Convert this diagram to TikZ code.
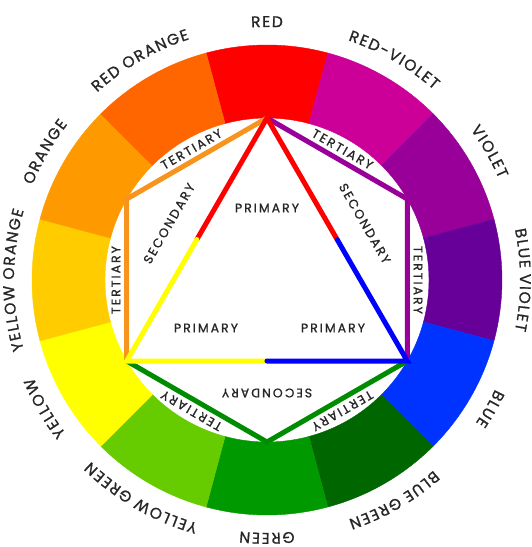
\documentclass[tikz,border=0pt]{standalone}
\usepackage{fontspec}
\setmainfont{Poppins}
\newfontfamily\ringfont[FakeBold=1]{Poppins}
\newfontfamily\wheelfont[LetterSpace=16,FakeBold=1]{Poppins}
\usepackage{tikz}
\usetikzlibrary{calc,decorations.text}

\definecolor{ringR}{HTML}{FF0000}
\definecolor{ringRV}{HTML}{CC0099}
\definecolor{ringV}{HTML}{990099}
\definecolor{ringBV}{HTML}{660099}
\definecolor{ringB}{HTML}{0033FF}
\definecolor{ringBG}{HTML}{006600}
\definecolor{ringG}{HTML}{009900}
\definecolor{ringYG}{HTML}{66CC00}
\definecolor{ringY}{HTML}{FFFF00}
\definecolor{ringYO}{HTML}{FFCC00}
\definecolor{ringO}{HTML}{FF9900}
\definecolor{ringRO}{HTML}{FF6600}
\definecolor{lineO}{HTML}{F7941D}
\definecolor{lineV}{HTML}{990099}
\definecolor{lineG}{HTML}{008C00}
\definecolor{lineB}{HTML}{0000FF}
\definecolor{ink}{HTML}{262626}

\newcommand\outfont{\ringfont\fontsize{15.5}{15.5}\selectfont}
\protected\def\ls{\kern1.5pt}

\begin{document}
\begin{tikzpicture}[x=1pt,y=1pt,
    wheelline/.style={line width=5pt,line cap=round},
    inlabel/.style={text=ink,inner sep=0pt,font=\wheelfont\fontsize{12.5}{12.5}\selectfont}]
  \useasboundingbox (-267,-267) rectangle (264,280);
  % colour ring
  \foreach \ang/\col in {90/ringR,60/ringRV,30/ringV,0/ringBV,-30/ringB,-60/ringBG,
      -90/ringG,-120/ringYG,-150/ringY,180/ringYO,150/ringO,120/ringRO} {
    \fill[\col,draw=\col,line width=0.4pt] (\ang-15:162) arc[start angle=\ang-15,end angle=\ang+15,radius=162]
      -- (\ang+15:235) arc[start angle=\ang+15,end angle=\ang-15,radius=235] -- cycle;
  }
  % outer names
  \foreach \ang/\lab in {90/{R{\ls}E{\ls}D},
      60/{R{\ls}E{\ls}D{\ls}-{\ls}V{\ls}I{\ls}O{\ls}L{\ls}E{\ls}T},
      30/{V{\ls}I{\ls}O{\ls}L{\ls}E{\ls}T},
      0/{B{\ls}L{\ls}U{\ls}E{\ls} V{\ls}I{\ls}O{\ls}L{\ls}E{\ls}T},
      -30/{B{\ls}L{\ls}U{\ls}E},
      -60/{B{\ls}L{\ls}U{\ls}E{\ls} G{\ls}R{\ls}E{\ls}E{\ls}N},
      -90/{G{\ls}R{\ls}E{\ls}E{\ls}N},
      -120/{Y{\ls}E{\ls}L{\ls}L{\ls}O{\ls}W{\ls} G{\ls}R{\ls}E{\ls}E{\ls}N},
      -150/{Y{\ls}E{\ls}L{\ls}L{\ls}O{\ls}W},
      180/{Y{\ls}E{\ls}L{\ls}L{\ls}O{\ls}W{\ls} O{\ls}R{\ls}A{\ls}N{\ls}G{\ls}E},
      150/{O{\ls}R{\ls}A{\ls}N{\ls}G{\ls}E},
      120/{R{\ls}E{\ls}D{\ls} O{\ls}R{\ls}A{\ls}N{\ls}G{\ls}E}} {
    \path[decorate,decoration={text along path,text align=center,
        text color=ink,text/.expanded={|\noexpand\outfont|\lab}}]
      (\ang+50:253) arc[start angle=\ang+50,end angle=\ang-50,radius=253];
  }
  % corners on the inner circle
  \foreach \ang in {90,30,330,270,210,150} {
    \coordinate (p\ang) at (\ang:162);
  }
  \coordinate (mL) at ($(p90)!0.5!(p210)$);
  \coordinate (mR) at ($(p90)!0.5!(p330)$);
  \coordinate (mB) at ($(p210)!0.5!(p330)$);
  % tertiary hexagon
  \draw[wheelline,lineO] (p90) -- (p150) -- (p210);
  \draw[wheelline,lineV] (p90) -- (p30) -- (p330);
  \draw[wheelline,lineG] (p210) -- (p270) -- (p330);
  % primary triangle
  \draw[wheelline,ringR] (mL) -- (p90) -- (mR);
  \draw[wheelline,ringY] (mL) -- (p210) -- (mB);
  \draw[wheelline,lineB] (mR) -- (p330) -- (mB);
  % inner labels
  \node[inlabel] (prim1) at (0,72) {PRIMARY};
  \node[inlabel] (prim2) at (-61,-48) {PRIMARY};
  \node[inlabel] (prim3) at (66,-48) {PRIMARY};
  \foreach \ang in {150,30,270} {
    \node[inlabel,rotate=\ang-90] (sec\ang) at (\ang:113) {SECONDARY};
  }
  \foreach \ang in {120,60,180,0,240,300} {
    \node[inlabel,rotate=\ang-90] (ter\ang) at (\ang:151) {TERTIARY};
  }
\end{tikzpicture}
\end{document}
